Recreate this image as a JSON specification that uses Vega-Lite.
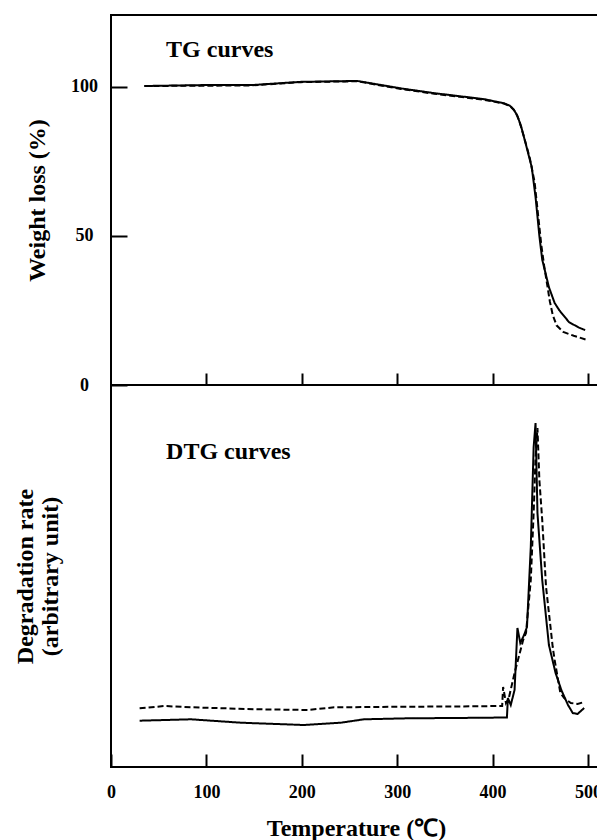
{
  "$schema": "https://vega.github.io/schema/vega-lite/v6.json",
  "padding": {"left": 12, "top": 14, "right": 0, "bottom": 0},
  "background": "white",
  "spacing": 0,
  "bounds": "flush",
  "config": {
    "view": {"stroke": "black", "strokeWidth": 2},
    "font": "Liberation Serif",
    "axis": {
      "grid": false, "domain": false, "tickColor": "black", "tickWidth": 2,
      "minExtent": 0, "maxExtent": 300,
      "labelFont": "Liberation Serif", "labelFontWeight": "bold", "labelFontSize": 18, "labelColor": "black",
      "titleFont": "Liberation Serif", "titleFontWeight": "bold", "titleFontSize": 24, "titleColor": "black"
    }
  },
  "datasets": {
    "tg": [
      {"T": 35, "w": 100.2, "s": "S1"}, {"T": 94, "w": 100.5, "s": "S1"}, {"T": 147, "w": 100.5, "s": "S1"},
      {"T": 199, "w": 101.6, "s": "S1"}, {"T": 258, "w": 101.9, "s": "S1"}, {"T": 304, "w": 99.4, "s": "S1"},
      {"T": 339, "w": 97.8, "s": "S1"}, {"T": 391, "w": 95.8, "s": "S1"}, {"T": 412, "w": 94.4, "s": "S1"},
      {"T": 418, "w": 93.6, "s": "S1"}, {"T": 422, "w": 92.4, "s": "S1"}, {"T": 426, "w": 90.2, "s": "S1"},
      {"T": 430, "w": 86.5, "s": "S1"}, {"T": 435, "w": 80.5, "s": "S1"}, {"T": 441, "w": 73, "s": "S1"},
      {"T": 445, "w": 63, "s": "S1"}, {"T": 449, "w": 50, "s": "S1"}, {"T": 452, "w": 42, "s": "S1"},
      {"T": 459, "w": 32.8, "s": "S1"}, {"T": 465, "w": 27.5, "s": "S1"}, {"T": 470, "w": 25, "s": "S1"},
      {"T": 480, "w": 21.1, "s": "S1"}, {"T": 490, "w": 19.3, "s": "S1"}, {"T": 497, "w": 18.4, "s": "S1"},
      {"T": 35, "w": 100.2, "s": "S2"}, {"T": 94, "w": 100.3, "s": "S2"}, {"T": 147, "w": 100.4, "s": "S2"},
      {"T": 199, "w": 101.5, "s": "S2"}, {"T": 258, "w": 101.8, "s": "S2"}, {"T": 304, "w": 99.2, "s": "S2"},
      {"T": 339, "w": 97.6, "s": "S2"}, {"T": 391, "w": 95.6, "s": "S2"}, {"T": 412, "w": 94.3, "s": "S2"},
      {"T": 419, "w": 93.3, "s": "S2"}, {"T": 424, "w": 91.5, "s": "S2"}, {"T": 428, "w": 88.5, "s": "S2"},
      {"T": 433, "w": 83, "s": "S2"}, {"T": 439, "w": 76, "s": "S2"}, {"T": 444, "w": 68, "s": "S2"},
      {"T": 448, "w": 56, "s": "S2"}, {"T": 451, "w": 47, "s": "S2"}, {"T": 454, "w": 40, "s": "S2"},
      {"T": 457, "w": 34, "s": "S2"}, {"T": 460, "w": 28, "s": "S2"}, {"T": 463, "w": 23.5, "s": "S2"},
      {"T": 467, "w": 20, "s": "S2"}, {"T": 474, "w": 17.8, "s": "S2"}, {"T": 485, "w": 16.5, "s": "S2"},
      {"T": 499, "w": 15.1, "s": "S2"}
    ],
    "dtg": [
      {"T": 30, "r": 46.3, "s": "S1"}, {"T": 84, "r": 47.7, "s": "S1"}, {"T": 136, "r": 44.3, "s": "S1"},
      {"T": 202, "r": 42, "s": "S1"}, {"T": 241, "r": 44.3, "s": "S1"}, {"T": 265, "r": 47.7, "s": "S1"},
      {"T": 311, "r": 48.7, "s": "S1"}, {"T": 360, "r": 49, "s": "S1"}, {"T": 415, "r": 49.5, "s": "S1"},
      {"T": 416, "r": 69, "s": "S1"}, {"T": 419, "r": 62, "s": "S1"}, {"T": 423, "r": 77, "s": "S1"},
      {"T": 426, "r": 139, "s": "S1"}, {"T": 429, "r": 124, "s": "S1"}, {"T": 433, "r": 132, "s": "S1"},
      {"T": 436, "r": 140, "s": "S1"}, {"T": 440, "r": 220, "s": "S1"}, {"T": 443, "r": 320, "s": "S1"},
      {"T": 445, "r": 344, "s": "S1"}, {"T": 447, "r": 254, "s": "S1"}, {"T": 452, "r": 187, "s": "S1"},
      {"T": 459, "r": 122, "s": "S1"}, {"T": 466, "r": 94, "s": "S1"}, {"T": 472, "r": 77, "s": "S1"},
      {"T": 479, "r": 62, "s": "S1"}, {"T": 484, "r": 54, "s": "S1"}, {"T": 489, "r": 53, "s": "S1"},
      {"T": 496, "r": 59, "s": "S1"},
      {"T": 30, "r": 58.7, "s": "S2"}, {"T": 56, "r": 61, "s": "S2"}, {"T": 84, "r": 59.7, "s": "S2"},
      {"T": 154, "r": 57.7, "s": "S2"}, {"T": 206, "r": 57, "s": "S2"}, {"T": 234, "r": 59.7, "s": "S2"},
      {"T": 311, "r": 60.3, "s": "S2"}, {"T": 360, "r": 60.5, "s": "S2"}, {"T": 410, "r": 61, "s": "S2"},
      {"T": 411, "r": 80, "s": "S2"}, {"T": 414, "r": 64, "s": "S2"}, {"T": 417, "r": 69, "s": "S2"},
      {"T": 423, "r": 94, "s": "S2"}, {"T": 432, "r": 127, "s": "S2"}, {"T": 435, "r": 134, "s": "S2"},
      {"T": 440, "r": 187, "s": "S2"}, {"T": 443, "r": 254, "s": "S2"}, {"T": 445, "r": 310, "s": "S2"},
      {"T": 447, "r": 339, "s": "S2"}, {"T": 449, "r": 287, "s": "S2"}, {"T": 452, "r": 247, "s": "S2"},
      {"T": 456, "r": 180, "s": "S2"}, {"T": 463, "r": 120, "s": "S2"}, {"T": 465, "r": 107, "s": "S2"},
      {"T": 471, "r": 74, "s": "S2"}, {"T": 475, "r": 69, "s": "S2"}, {"T": 482, "r": 64, "s": "S2"},
      {"T": 489, "r": 63, "s": "S2"}, {"T": 496, "r": 65, "s": "S2"}
    ]
  },
  "vconcat": [
    {
      "width": 490,
      "height": 370,
      "layer": [
        {
          "data": {"name": "tg"},
          "mark": {"type": "line", "strokeWidth": 2, "color": "black"},
          "encoding": {
            "x": {"field": "T", "type": "quantitative",
              "scale": {"domain": [0, 513.6], "nice": false, "zero": false},
              "axis": {"values": [100, 200, 300, 400, 500], "tickSize": -12, "labels": false, "title": null}},
            "y": {"field": "w", "type": "quantitative",
              "scale": {"domain": [0, 124], "nice": false},
              "axis": {"values": [0, 50, 100], "tickSize": -16, "labelPadding": 43, "labelAlign": "center",
                "title": "Weight loss (%)", "titlePadding": 21}},
            "strokeDash": {"field": "s", "type": "nominal",
              "scale": {"domain": ["S1", "S2"], "range": [[1, 0], [6, 3]]}, "legend": null}
          }
        },
        {
          "data": {"values": [{}]},
          "mark": {"type": "text", "align": "left", "baseline": "alphabetic", "font": "Liberation Serif",
            "fontWeight": "bold", "fontSize": 24, "color": "black"},
          "encoding": {
            "x": {"datum": 57.7, "type": "quantitative"},
            "y": {"datum": 110, "type": "quantitative"},
            "text": {"value": "TG curves"}
          }
        }
      ]
    },
    {
      "width": 490,
      "height": 382,
      "layer": [
        {
          "data": {"name": "dtg"},
          "mark": {"type": "line", "strokeWidth": 2, "color": "black"},
          "encoding": {
            "x": {"field": "T", "type": "quantitative",
              "scale": {"domain": [0, 513.6], "nice": false, "zero": false},
              "axis": {"values": [0, 100, 200, 300, 400, 500], "tickSize": -13, "labelPadding": 29,
                "labelFlush": false, "format": "d", "title": "Temperature (℃)", "titlePadding": 15}},
            "y": {"field": "r", "type": "quantitative",
              "scale": {"domain": [0, 382], "nice": false},
              "axis": {"ticks": false, "labels": false,
                "title": ["Degradation rate", "(arbitrary unit)"], "titlePadding": 49, "titleLineHeight": 25}},
            "strokeDash": {"field": "s", "type": "nominal",
              "scale": {"domain": ["S1", "S2"], "range": [[1, 0], [6, 3]]}, "legend": null}
          }
        },
        {
          "data": {"values": [{}]},
          "mark": {"type": "text", "align": "left", "baseline": "alphabetic", "font": "Liberation Serif",
            "fontWeight": "bold", "fontSize": 24, "color": "black"},
          "encoding": {
            "x": {"datum": 57.7, "type": "quantitative"},
            "y": {"datum": 308, "type": "quantitative"},
            "text": {"value": "DTG curves"}
          }
        }
      ]
    }
  ]
}
